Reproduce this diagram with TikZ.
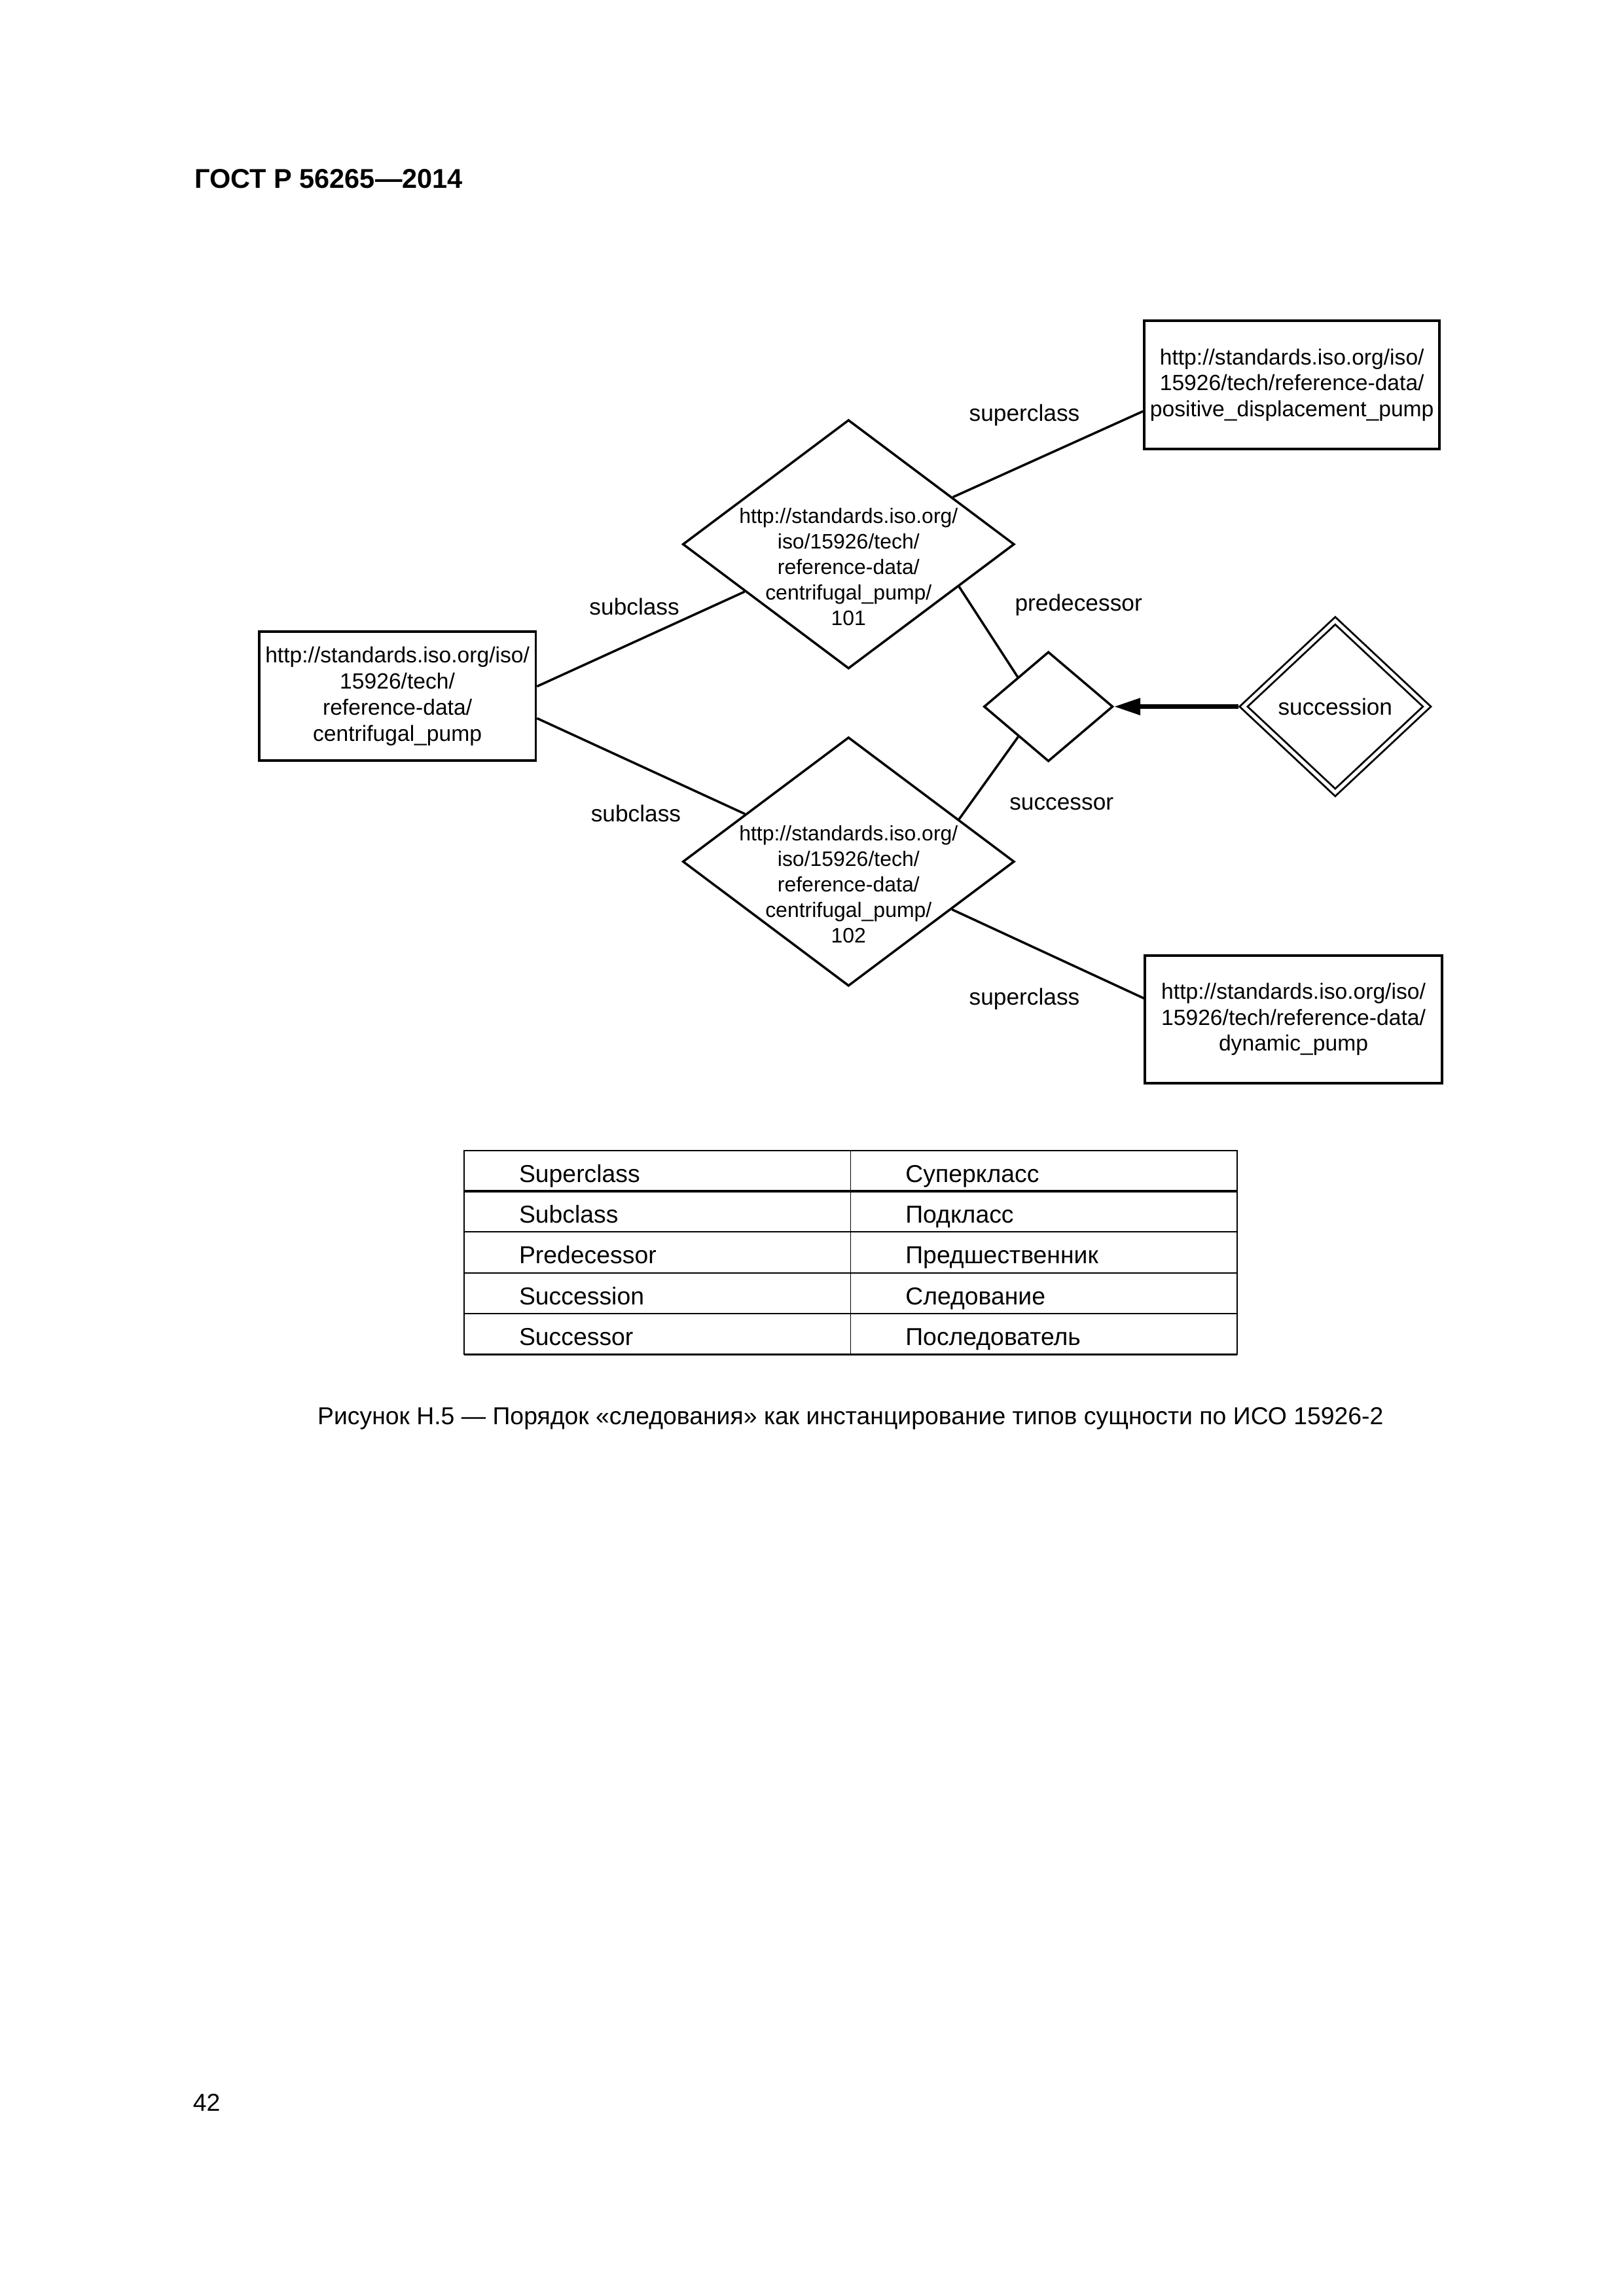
\documentclass[tikz,border=0pt]{standalone}
\usepackage{fontspec}
\setmainfont{Liberation Sans}
\usetikzlibrary{positioning,shapes.geometric,arrows.meta}

\begin{document}
\begin{tikzpicture}[x=1mm,y=-1mm,
		cls/.style={rectangle,draw,line width=0.9pt,inner sep=0pt,align=center,font=\fontsize{8.1}{9.6}\selectfont},
		rel/.style={diamond,draw,line width=0.85pt,inner sep=0pt,minimum width=42.9mm,minimum height=32.2mm},
		reltext/.style={align=center,font=\fontsize{7.7}{9.4}\selectfont},
		role/.style={font=\fontsize{8.5}{10}\selectfont},
		link/.style={line width=0.85pt},
		cell/.style={rectangle,draw,line width=0.45pt,outer sep=0pt,minimum width=49.98mm,minimum height=5.28mm,text width=35.78mm,inner xsep=7.1mm,inner ysep=0pt,text height=3mm,text depth=0.08mm,font=\fontsize{9}{10.8}\selectfont}]
		\useasboundingbox (0,0) rectangle (210,297);
		\node [font=\bfseries\fontsize{10}{12}\selectfont,anchor=base west,inner sep=0pt] (hdr) at (25.1,24.3) {ГОСТ Р 56265—2014};

		\node [cls,minimum width=38.2mm,minimum height=16.6mm] (pdp) at (167.1,49.8) {http://standards.iso.org/iso/\\15926/tech/reference-data/\\positive\_displacement\_pump};
		\node [cls,minimum width=35.8mm,minimum height=16.7mm] (cp) at (51.4,90.05) {http://standards.iso.org/iso/\\15926/tech/\\reference-data/\\centrifugal\_pump};
		\node [cls,minimum width=38.4mm,minimum height=16.5mm] (dp) at (167.3,131.85) {http://standards.iso.org/iso/\\15926/tech/reference-data/\\dynamic\_pump};

		\node [rel] (cp1) at (109.75,70.4) {};
		\node [reltext] (cp1t) at (109.75,73.3) {http://standards.iso.org/\\iso/15926/tech/\\reference-data/\\centrifugal\_pump/\\101};
		\node [rel] (cp2) at (109.75,111.45) {};
		\node [reltext] (cp2t) at (109.75,114.4) {http://standards.iso.org/\\iso/15926/tech/\\reference-data/\\centrifugal\_pump/\\102};
		\node [rel,minimum width=16.7mm,minimum height=14.2mm] (ord) at (135.6,91.4) {};
		\node [rel,double,double distance=0.45mm,line width=0.7pt,outer sep=0.47mm,minimum width=24.1mm,minimum height=22.6mm,font=\fontsize{8.5}{10}\selectfont] (suc) at (172.7,91.4) {succession};

		\draw [link] (cp1) -- (pdp.190);
		\draw [link] (cp.4) -- (cp1);
		\draw [link] (cp.-9) -- (cp2);
		\draw [link] (cp2) -- (dp.172);
		\draw [link] (cp1.-21.5) -- (ord.136);
		\draw [link] (cp2.21) -- (ord.225);
		\draw [-{Triangle[length=3.4mm,width=2.1mm]},line width=1.6pt] (suc) -- (ord);

		\node [role] (r1) at (132.5,53.7) {superclass};
		\node [role] (r2) at (82.05,78.5) {subclass};
		\node [role] (r3) at (139.5,78.3) {predecessor};
		\node [role] (r4) at (82.25,105.2) {subclass};
		\node [role] (r5) at (137.3,104.0) {successor};
		\node [role] (r6) at (132.5,129.2) {superclass};

		\node [cell,anchor=north west] (t1a) at (60.04,148.8) {Superclass};
		\node [cell] (t1b) [right=0pt of t1a] {Суперкласс};
		\node [cell] (t2a) [below=0pt of t1a] {Subclass};
		\node [cell] (t2b) [right=0pt of t2a] {Подкласс};
		\node [cell] (t3a) [below=0pt of t2a] {Predecessor};
		\node [cell] (t3b) [right=0pt of t3a] {Предшественник};
		\node [cell] (t4a) [below=0pt of t3a] {Succession};
		\node [cell] (t4b) [right=0pt of t4a] {Следование};
		\node [cell] (t5a) [below=0pt of t4a] {Successor};
		\node [cell] (t5b) [right=0pt of t5a] {Последователь};
		\draw [line width=0.8pt] (t1a.south west) -- (t1b.south east);
		\draw [line width=0.8pt] (t5a.south west) -- (t5b.south east);

		\node [font=\fontsize{9}{10.8}\selectfont] (cap) at (110.0,183.5) {Рисунок Н.5 — Порядок «следования» как инстанцирование типов сущности по ИСО 15926-2};
		\node [font=\fontsize{9}{11}\selectfont,anchor=base west,inner sep=0pt] (pg) at (24.9,273.1) {42};
	\end{tikzpicture}
\end{document}
